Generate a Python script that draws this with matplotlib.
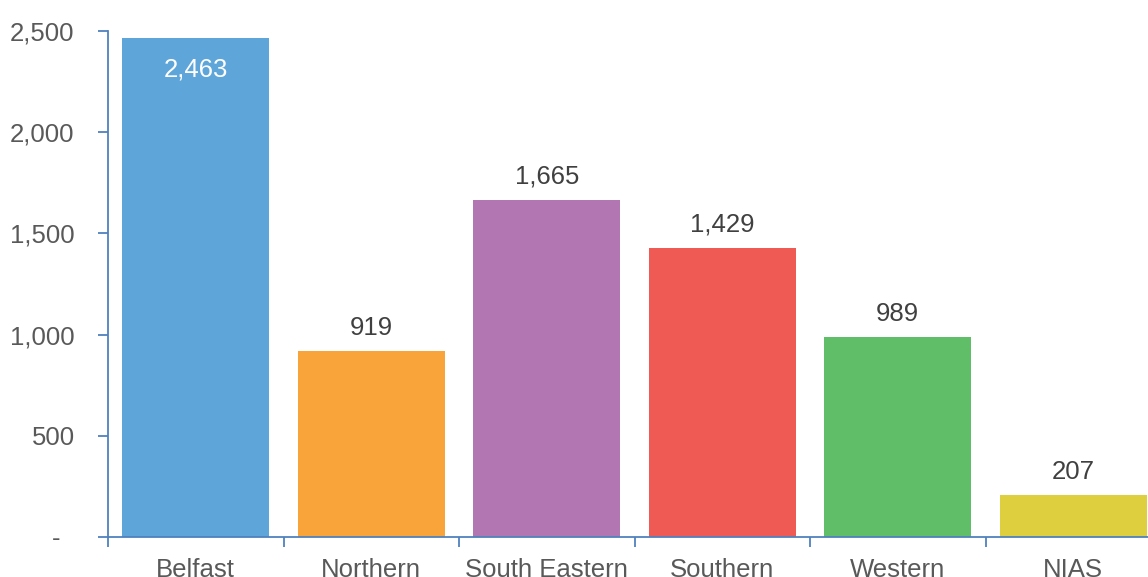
import matplotlib

matplotlib.use("Agg")
import matplotlib.pyplot as plt
from matplotlib.ticker import FuncFormatter

REGIONS = ["Belfast", "Northern", "South Eastern", "Southern", "Western", "NIAS"]
COUNTS = [2463, 919, 1665, 1429, 989, 207]
COLORS = ["#5EA5DA", "#F9A43A", "#B277B2", "#F05A55", "#60BD68", "#DECF3F"]
Y_TICKS = [0, 500, 1000, 1500, 2000, 2500]

AXIS_BLUE = "#4F81BD"
TEXT_GREY = "#595959"
VALUE_GREY = "#404040"

plt.rcParams["font.family"] = ["Liberation Sans", "DejaVu Sans"]


def thousands(value, _pos):
    # accounting-style zero: a dash padded away from the axis
    if value == 0:
        return "-  "
    return f"{int(value):,}"


def main() -> None:
    width_px, height_px = 1148, 577
    fig = plt.figure(figsize=(width_px / 100, height_px / 100), dpi=100)
    left, right = 108 / width_px, 1161 / width_px
    bottom, top = (height_px - 537) / height_px, (height_px - 31) / height_px
    ax = fig.add_axes((left, bottom, right - left, top - bottom))

    positions = list(range(len(REGIONS)))
    bars = ax.bar(positions, COUNTS, width=0.84, color=COLORS, zorder=2)

    for bar, count in zip(bars, COUNTS):
        x = bar.get_x() + bar.get_width() / 2
        if count > 2300:
            ax.annotate(f"{count:,}", (x, count), xytext=(0, -14), textcoords="offset points",
                        ha="center", va="top", fontsize=18.5, color="white")
        else:
            ax.annotate(f"{count:,}", (x, count), xytext=(0, 8), textcoords="offset points",
                        ha="center", va="bottom", fontsize=18.5, color=VALUE_GREY)

    ax.set_xlim(-0.5, len(REGIONS) - 0.5)
    ax.set_ylim(0, 2500)
    ax.set_yticks(Y_TICKS)
    ax.yaxis.set_major_formatter(FuncFormatter(thousands))

    ax.set_xticks(positions)
    ax.set_xticklabels(REGIONS)
    ax.set_xticks([p - 0.5 for p in positions] + [len(REGIONS) - 0.5], minor=True)

    for side in ("top", "right"):
        ax.spines[side].set_visible(False)
    for side in ("left", "bottom"):
        ax.spines[side].set_color(AXIS_BLUE)
        ax.spines[side].set_linewidth(1.3)

    ax.tick_params(axis="y", direction="out", length=7, width=1.3, color=AXIS_BLUE,
                   labelsize=18.5, labelcolor=TEXT_GREY, pad=17)
    ax.tick_params(axis="x", which="major", length=0, labelsize=18.5,
                   labelcolor=TEXT_GREY, pad=15)
    ax.tick_params(axis="x", which="minor", direction="out", length=7, width=1.3,
                   color=AXIS_BLUE)

    fig.savefig("out.png", dpi=100)
    plt.close(fig)


if __name__ == "__main__":
    main()
